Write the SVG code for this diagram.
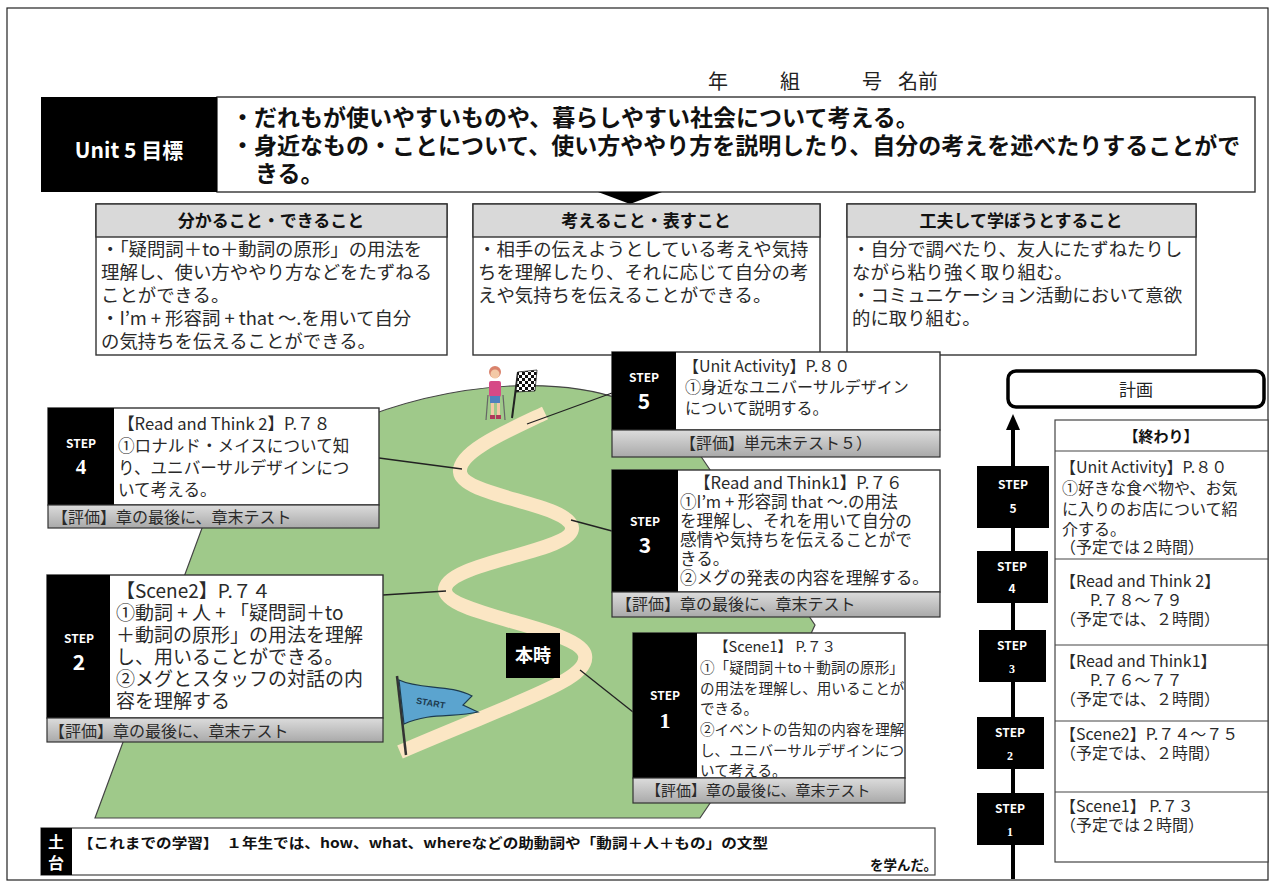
<svg xmlns="http://www.w3.org/2000/svg" width="1275" height="887" viewBox="0 0 1275 887">
  <style>
    .jp { font-family: "Noto Sans CJK JP", "Noto Sans", sans-serif; }
    .hd { font-family: "Noto Sans CJK JP", sans-serif; font-weight: bold; fill: #111; }
    .body { font-family: "Noto Sans CJK JP", sans-serif; fill: #2a2a2a; }
    .wt { font-family: "Noto Sans CJK JP", sans-serif; font-weight: bold; fill: #fff; }
    .box { fill: #fff; stroke: #333; stroke-width: 1.4; }
    .cap { fill: #d9d9d9; stroke: #333; stroke-width: 1.4; }
    .blk { fill: #000; }
    .band { fill: url(#bandGrad); stroke: #333; stroke-width: 1.2; }
    .link { stroke: #222; stroke-width: 1.3; fill: none; }
    .serif { font-family: "Liberation Serif", serif; font-weight: bold; fill: #fff; }
  </style>
  <defs>
    <linearGradient id="bandGrad" x1="0" y1="0" x2="0" y2="1">
      <stop offset="0" stop-color="#dcdcdc"/>
      <stop offset="1" stop-color="#a9a9a9"/>
    </linearGradient>
    <pattern id="checker" width="6" height="6" patternUnits="userSpaceOnUse">
      <rect width="6" height="6" fill="#fff"/>
      <rect width="3" height="3" fill="#111"/>
      <rect x="3" y="3" width="3" height="3" fill="#111"/>
    </pattern>
  </defs>

  <rect width="1275" height="887" fill="#fff"/>
  <!-- page frame -->
  <rect x="7" y="8" width="1261" height="872" fill="none" stroke="#222" stroke-width="1.2"/>

  <!-- name line -->
  <g id="name-line" class="jp" font-size="20" fill="#222">
    <text x="708" y="89">年</text>
    <text x="780" y="89">組</text>
    <text x="862" y="89">号</text>
    <text x="898" y="89">名前</text>
  </g>

  <!-- unit goal -->
  <g id="goal">
    <rect x="217" y="97" width="1038" height="95" class="box"/>
    <rect x="41" y="97" width="176" height="95" class="blk"/>
    <text class="wt" x="129" y="158" font-size="21" text-anchor="middle">Unit 5 目標</text>
    <text class="hd" x="231" y="126" font-size="23">・だれもが使いやすいものや、暮らしやすい社会について考える。</text>
    <text class="hd" x="231" y="154" font-size="23">・身近なもの・ことについて、使い方ややり方を説明したり、自分の考えを述べたりすることがで</text>
    <text class="hd" x="255" y="182" font-size="23">きる。</text>
    <path d="M598,192 L662,192 L630,204 Z" fill="#000"/>
  </g>

  <!-- three viewpoints -->
  <g id="view-knowledge">
    <rect x="96" y="204" width="351" height="151" class="box"/>
    <rect x="96" y="204" width="351" height="33" class="cap"/>
    <text class="hd" x="271" y="227" font-size="17" text-anchor="middle">分かること・できること</text>
    <text class="body" font-size="18.4">
      <tspan x="101" y="256">・「疑問詞＋to＋動詞の原形」の用法を</tspan>
      <tspan x="101" y="279">理解し、使い方ややり方などをたずねる</tspan>
      <tspan x="101" y="302">ことができる。</tspan>
      <tspan x="101" y="325">・I’m + 形容詞 + that ～.を用いて自分</tspan>
      <tspan x="101" y="348">の気持ちを伝えることができる。</tspan>
    </text>
  </g>
  <g id="view-thinking">
    <rect x="473" y="204" width="347" height="151" class="box"/>
    <rect x="473" y="204" width="347" height="33" class="cap"/>
    <text class="hd" x="646" y="227" font-size="17" text-anchor="middle">考えること・表すこと</text>
    <text class="body" font-size="18.4">
      <tspan x="478" y="256">・相手の伝えようとしている考えや気持</tspan>
      <tspan x="478" y="279">ちを理解したり、それに応じて自分の考</tspan>
      <tspan x="478" y="302">えや気持ちを伝えることができる。</tspan>
    </text>
  </g>
  <g id="view-attitude">
    <rect x="847" y="204" width="349" height="151" class="box"/>
    <rect x="847" y="204" width="349" height="33" class="cap"/>
    <text class="hd" x="1021" y="227" font-size="17" text-anchor="middle">工夫して学ぼうとすること</text>
    <text class="body" font-size="18.4">
      <tspan x="852" y="256">・自分で調べたり、友人にたずねたりし</tspan>
      <tspan x="852" y="279">ながら粘り強く取り組む。</tspan>
      <tspan x="852" y="302">・コミュニケーション活動において意欲</tspan>
      <tspan x="852" y="325">的に取り組む。</tspan>
    </text>
  </g>

  <!-- hill and road -->
  <g id="hill">
    <path d="M95,818 L205,520 C280,440 400,392 510,386 C600,382 660,405 700,455 L815,625 L780,700 L700,818 Z" fill="#9fc98a" stroke="#444" stroke-width="1.2"/>
    <path d="M400,752 C520,700 590,680 585,655 C580,628 445,615 445,590 C445,562 574,552 572,528 C570,503 462,497 460,472 C458,452 505,432 545,413" fill="none" stroke="#fbe6c4" stroke-width="14"/>
  </g>

  <!-- climber and finish flag on the summit -->
  <g id="climber">
    <line x1="488" y1="395" x2="486" y2="420" stroke="#666" stroke-width="1.2"/>
    <line x1="503" y1="395" x2="505" y2="420" stroke="#666" stroke-width="1.2"/>
    <circle cx="495" cy="372" r="6" fill="#d9826b"/>
    <circle cx="495" cy="374" r="4.5" fill="#f3c9a6"/>
    <rect x="489" y="381" width="12" height="16" rx="2" fill="#d64a86"/>
    <rect x="490" y="396" width="10" height="7" fill="#4f81bd"/>
    <rect x="491" y="403" width="3" height="13" fill="#f3c9a6"/>
    <rect x="497" y="403" width="3" height="13" fill="#f3c9a6"/>
    <rect x="490" y="415" width="5" height="4" fill="#b03a5b"/>
    <rect x="496" y="415" width="5" height="4" fill="#b03a5b"/>
  </g>
  <g id="finish-flag">
    <line x1="512" y1="418" x2="518" y2="372" stroke="#222" stroke-width="2"/>
    <path d="M518,372 L537,370 L535,391 L516,392 Z" fill="url(#checker)" stroke="#222" stroke-width="0.8"/>
  </g>

  <!-- start flag -->
  <g id="start-flag">
    <line x1="397" y1="676" x2="406" y2="755" stroke="#333" stroke-width="2.5"/>
    <path d="M399,680 C420,690 450,684 472,696 L463,705 L478,712 C455,718 430,712 404,724 Z" fill="#5ba4cf" stroke="#1d3b4f" stroke-width="1.2"/>
    <text x="416" y="706" font-family="Liberation Sans, sans-serif" font-size="9" font-weight="bold" fill="#1d3b4f" transform="rotate(10 430 703)">START</text>
  </g>

  <!-- current lesson marker -->
  <g id="current">
    <rect x="506" y="633" width="54" height="45" class="blk"/>
    <text class="wt" x="533" y="662" font-size="18" text-anchor="middle">本時</text>
  </g>

  <!-- connectors from road to steps -->
  <g id="connectors">
    <line class="link" x1="527" y1="424" x2="612" y2="393"/>
    <line class="link" x1="379" y1="458" x2="462" y2="469"/>
    <line class="link" x1="571" y1="520" x2="612" y2="531"/>
    <line class="link" x1="383" y1="595" x2="446" y2="591"/>
    <line class="link" x1="580" y1="670" x2="633" y2="712"/>
  </g>

  <!-- step 5 -->
  <g id="step5">
    <rect x="612" y="352" width="328" height="78" class="box"/>
    <rect x="612" y="352" width="64" height="78" class="blk"/>
    <rect x="612" y="430" width="328" height="27" class="band"/>
    <text class="wt" x="644" y="382" font-size="12" text-anchor="middle">STEP</text>
    <text class="wt" x="644" y="409" font-size="21" text-anchor="middle">5</text>
    <text class="body" font-size="16">
      <tspan x="683" y="372">【Unit Activity】P.８０</tspan>
      <tspan x="685" y="393">①身近なユニバーサルデザイン</tspan>
      <tspan x="685" y="414">について説明する。</tspan>
    </text>
    <text class="body" x="776" y="449" font-size="16" text-anchor="middle">【評価】単元末テスト５）</text>
  </g>

  <!-- step 4 -->
  <g id="step4">
    <rect x="48" y="408" width="331" height="97" class="box"/>
    <rect x="48" y="408" width="66" height="97" class="blk"/>
    <rect x="48" y="505" width="331" height="23" class="band"/>
    <text class="wt" x="81" y="448" font-size="12" text-anchor="middle">STEP</text>
    <text class="serif" x="81" y="474" font-size="21" text-anchor="middle">4</text>
    <text class="body" font-size="16.6">
      <tspan x="118" y="430">【Read and Think 2】P.７８</tspan>
      <tspan x="118" y="452">①ロナルド・メイスについて知</tspan>
      <tspan x="118" y="474">り、ユニバーサルデザインにつ</tspan>
      <tspan x="118" y="496">いて考える。</tspan>
    </text>
    <text class="body" x="52" y="523" font-size="16">【評価】章の最後に、章末テスト</text>
  </g>

  <!-- step 3 -->
  <g id="step3">
    <rect x="612" y="470" width="328" height="122" class="box"/>
    <rect x="612" y="470" width="66" height="122" class="blk"/>
    <rect x="612" y="592" width="328" height="25" class="band"/>
    <text class="wt" x="645" y="526" font-size="12" text-anchor="middle">STEP</text>
    <text class="wt" x="645" y="553" font-size="21" text-anchor="middle">3</text>
    <text class="body" font-size="16.6">
      <tspan x="694" y="489">【Read and Think1】P.７６</tspan>
      <tspan x="680" y="508">①I’m + 形容詞 that ～.の用法</tspan>
      <tspan x="680" y="527">を理解し、それを用いて自分の</tspan>
      <tspan x="680" y="546">感情や気持ちを伝えることがで</tspan>
      <tspan x="680" y="565">きる。</tspan>
      <tspan x="680" y="584">②メグの発表の内容を理解する。</tspan>
    </text>
    <text class="body" x="616" y="610" font-size="16">【評価】章の最後に、章末テスト</text>
  </g>

  <!-- step 2 -->
  <g id="step2">
    <rect x="47" y="575" width="336" height="143" class="box"/>
    <rect x="47" y="575" width="63" height="143" class="blk"/>
    <rect x="47" y="718" width="336" height="24" class="band"/>
    <text class="wt" x="79" y="643" font-size="12" text-anchor="middle">STEP</text>
    <text class="wt" x="79" y="670" font-size="21" text-anchor="middle">2</text>
    <text class="body" font-size="19">
      <tspan x="116" y="598">【Scene2】P.７４</tspan>
      <tspan x="116" y="620">①動詞 + 人 + 「疑問詞＋to</tspan>
      <tspan x="116" y="642">＋動詞の原形」の用法を理解</tspan>
      <tspan x="116" y="664">し、用いることができる。</tspan>
      <tspan x="116" y="686">②メグとスタッフの対話の内</tspan>
      <tspan x="116" y="708">容を理解する</tspan>
    </text>
    <text class="body" x="49" y="737" font-size="16">【評価】章の最後に、章末テスト</text>
  </g>

  <!-- step 1 -->
  <g id="step1">
    <rect x="633" y="633" width="272" height="145" class="box"/>
    <rect x="633" y="633" width="64" height="145" class="blk"/>
    <rect x="633" y="778" width="272" height="25" class="band"/>
    <text class="wt" x="665" y="700" font-size="12" text-anchor="middle">STEP</text>
    <text class="serif" x="665" y="728" font-size="22" text-anchor="middle">1</text>
    <text class="body" font-size="14.6">
      <tspan x="714" y="652">【Scene1】 P.７３</tspan>
      <tspan x="700" y="673">①「疑問詞＋to＋動詞の原形」</tspan>
      <tspan x="700" y="694">の用法を理解し、用いることが</tspan>
      <tspan x="700" y="714">できる。</tspan>
      <tspan x="700" y="735">②イベントの告知の内容を理解</tspan>
      <tspan x="700" y="756">し、ユニバーサルデザインにつ</tspan>
      <tspan x="700" y="776">いて考える。</tspan>
    </text>
    <text class="body" x="646" y="796" font-size="15">【評価】章の最後に、章末テスト</text>
  </g>

  <!-- plan timeline -->
  <g id="plan">
    <rect x="1008" y="371" width="256" height="36" rx="8" fill="#fff" stroke="#000" stroke-width="3.5"/>
    <text class="jp" x="1136" y="396" font-size="17" fill="#222" text-anchor="middle">計画</text>
    <line x1="1013" y1="879" x2="1013" y2="424" stroke="#000" stroke-width="4"/>
    <path d="M1006,430 L1013,414 L1020,430 Z" fill="#000"/>
  </g>

  <g id="plan-table">
    <rect x="1055" y="420" width="213" height="442" fill="#fff" stroke="#444" stroke-width="1.2"/>
    <line x1="1055" y1="451" x2="1268" y2="451" stroke="#444" stroke-width="1.2"/>
    <line x1="1055" y1="559" x2="1268" y2="559" stroke="#444" stroke-width="1.2"/>
    <line x1="1055" y1="645" x2="1268" y2="645" stroke="#444" stroke-width="1.2"/>
    <line x1="1055" y1="721" x2="1268" y2="721" stroke="#444" stroke-width="1.2"/>
    <line x1="1055" y1="792" x2="1268" y2="792" stroke="#444" stroke-width="1.2"/>
    <text class="hd" x="1161" y="442" font-size="15" text-anchor="middle">【終わり】</text>
    <text class="body" font-size="16">
      <tspan x="1060" y="473">【Unit Activity】P.８０</tspan>
      <tspan x="1062" y="494">①好きな食べ物や、お気</tspan>
      <tspan x="1062" y="515">に入りのお店について紹</tspan>
      <tspan x="1062" y="535">介する。</tspan>
      <tspan x="1060" y="553">（予定では２時間）</tspan>
    </text>
    <text class="body" font-size="16">
      <tspan x="1060" y="587">【Read and Think 2】</tspan>
      <tspan x="1090" y="606">P.７８～７９</tspan>
      <tspan x="1060" y="625">（予定では、２時間）</tspan>
    </text>
    <text class="body" font-size="16">
      <tspan x="1060" y="667">【Read and Think1】</tspan>
      <tspan x="1090" y="686">P.７６～７７</tspan>
      <tspan x="1060" y="705">（予定では、２時間）</tspan>
    </text>
    <text class="body" font-size="16">
      <tspan x="1060" y="740">【Scene2】P.７４～７５</tspan>
      <tspan x="1060" y="759">（予定では、２時間）</tspan>
    </text>
    <text class="body" font-size="16">
      <tspan x="1060" y="812">【Scene1】 P.７３</tspan>
      <tspan x="1060" y="831">（予定では２時間）</tspan>
    </text>
  </g>

  <g id="plan-steps">
    <rect x="977" y="466" width="72" height="62" class="blk"/>
    <text class="wt" x="1013" y="489" font-size="12" text-anchor="middle">STEP</text>
    <text class="wt" x="1013" y="513" font-size="12" text-anchor="middle">5</text>
    <rect x="977" y="551" width="71" height="52" class="blk"/>
    <text class="wt" x="1012" y="571" font-size="12" text-anchor="middle">STEP</text>
    <text class="wt" x="1012" y="593" font-size="12" text-anchor="middle">4</text>
    <rect x="979" y="630" width="67" height="52" class="blk"/>
    <text class="wt" x="1012" y="650" font-size="12" text-anchor="middle">STEP</text>
    <text class="serif" x="1012" y="673" font-size="12" text-anchor="middle">3</text>
    <rect x="977" y="717" width="67" height="52" class="blk"/>
    <text class="wt" x="1010" y="737" font-size="12" text-anchor="middle">STEP</text>
    <text class="serif" x="1010" y="760" font-size="12" text-anchor="middle">2</text>
    <rect x="977" y="793" width="67" height="52" class="blk"/>
    <text class="wt" x="1010" y="813" font-size="12" text-anchor="middle">STEP</text>
    <text class="serif" x="1010" y="836" font-size="12" text-anchor="middle">1</text>
  </g>

  <!-- foundation -->
  <g id="foundation">
    <rect x="41" y="828" width="894" height="47" fill="#fff" stroke="#444" stroke-width="1.2"/>
    <rect x="41" y="828" width="31" height="47" class="blk"/>
    <text class="wt" x="56" y="848" font-size="16" text-anchor="middle">土</text>
    <text class="wt" x="56" y="869" font-size="16" text-anchor="middle">台</text>
    <text class="hd" x="78" y="848" font-size="13.5" textLength="690" lengthAdjust="spacingAndGlyphs">【これまでの学習】　１年生では、how、what、whereなどの助動詞や「動詞＋人＋もの」の文型</text>
    <text class="hd" x="870" y="870" font-size="13.5">を学んだ。</text>
  </g>
</svg>
